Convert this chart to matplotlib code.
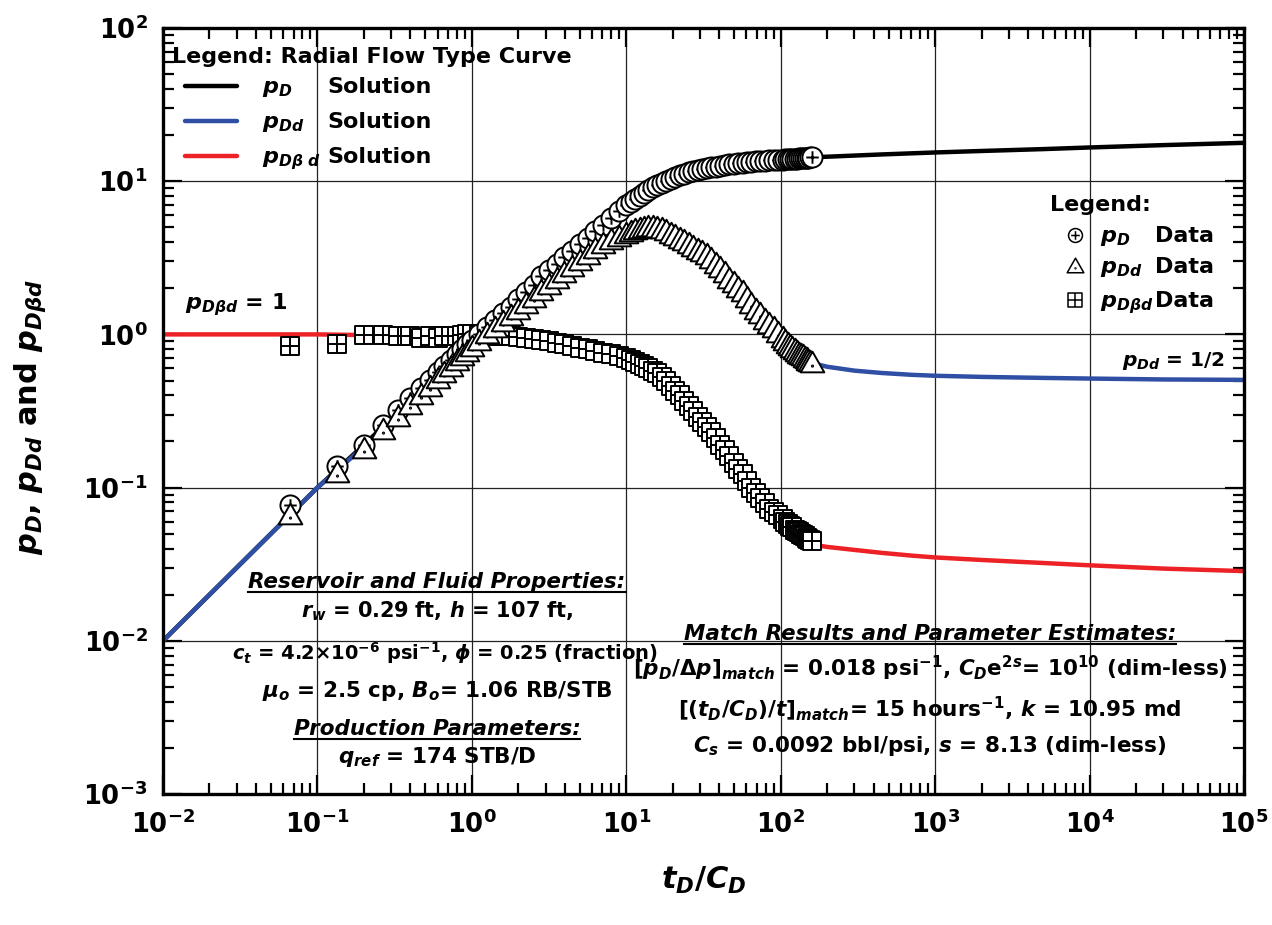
import numpy as np
import matplotlib
matplotlib.use("Agg")
import matplotlib.pyplot as plt
from matplotlib.path import Path
from matplotlib.lines import Line2D
from matplotlib.transforms import IdentityTransform
from matplotlib.ticker import LogLocator, NullFormatter

plt.rcParams['font.family'] = ['DejaVu Sans']
plt.rcParams['font.weight'] = 'bold'
plt.rcParams['mathtext.fontset'] = 'custom'
plt.rcParams['mathtext.rm'] = 'DejaVu Sans:bold'
plt.rcParams['mathtext.bf'] = 'DejaVu Sans:bold'
plt.rcParams['mathtext.sf'] = 'DejaVu Sans:bold'
plt.rcParams['mathtext.it'] = 'DejaVu Sans:italic:bold'

# ---- data ----
t_data = [0.0665, 0.133, 0.2, 0.266, 0.333, 0.4, 0.466, 0.532, 0.6, 0.665, 0.73, 0.8, 0.865, 0.93, 1.0,
          1.12, 1.26, 1.41, 1.58, 1.78, 2.0, 2.24, 2.51, 2.82, 3.16, 3.55, 3.98, 4.47, 5.01, 5.62, 6.31, 7.08, 7.94, 8.91, 10.0,
          10.7, 11.4, 12.2, 13.0, 13.9, 14.9, 15.9, 17.0, 18.2, 19.5, 20.8, 22.2, 23.8, 25.4, 27.2, 29.0, 31.0, 33.2, 35.5,
          37.9, 40.5, 43.3, 46.3, 49.5, 52.9, 56.6, 60.5, 64.6, 69.1, 73.9, 79.0, 84.4, 90.2, 96.4, 103,
          107, 111, 115, 119, 123, 127, 131, 135, 139, 143, 147, 151, 155, 160]

pD_data = [0.077, 0.138, 0.19, 0.258, 0.32, 0.385, 0.445, 0.505, 0.565, 0.625, 0.685, 0.745, 0.80, 0.86, 0.92,
           1.01, 1.12, 1.24, 1.37, 1.52, 1.70, 1.88, 2.1, 2.4, 2.62, 2.9, 3.2, 3.52, 3.88, 4.27, 4.7, 5.2, 5.75, 6.35, 7.0,
           7.35, 7.7, 8.05, 8.4, 8.75, 9.1, 9.4, 9.75, 10.05, 10.35, 10.65, 10.9, 11.15, 11.4, 11.6, 11.8, 12.0, 12.15, 12.3,
           12.45, 12.6, 12.75, 12.9, 13.0, 13.1, 13.2, 13.3, 13.4, 13.5, 13.55, 13.6, 13.7, 13.75, 13.8, 13.85,
           13.9, 13.9, 13.95, 14.0, 14.0, 14.05, 14.1, 14.1, 14.15, 14.2, 14.2, 14.25, 14.3, 14.35]

pDd_data = [0.066, 0.125, 0.178, 0.236, 0.29, 0.345, 0.40, 0.455, 0.51, 0.56, 0.615, 0.67, 0.72, 0.77, 0.83,
            0.91, 1.0, 1.1, 1.2, 1.32, 1.45, 1.58, 1.74, 1.92, 2.1, 2.3, 2.5, 2.75, 3.0, 3.3, 3.6, 3.9, 4.15, 4.35, 4.55,
            4.68, 4.8, 4.88, 4.95, 5.0, 5.0, 4.95, 4.85, 4.7, 4.55, 4.4, 4.22, 4.05, 3.88, 3.72, 3.57, 3.45, 3.3, 3.1,
            2.9, 2.7, 2.5, 2.3, 2.15, 2.0, 1.88, 1.72, 1.58, 1.45, 1.35, 1.25, 1.17, 1.1, 1.02, 0.95,
            0.91, 0.87, 0.84, 0.81, 0.79, 0.77, 0.75, 0.73, 0.72, 0.70, 0.69, 0.67, 0.66, 0.65]

pDbd_data = [0.84, 0.87, 0.99, 0.99, 0.98, 0.97, 0.95, 0.97, 0.95, 0.97, 0.98, 0.98, 0.99, 1.0, 1.0,
             0.99, 0.99, 0.98, 0.98, 0.97, 0.96, 0.95, 0.94, 0.92, 0.90, 0.88, 0.86, 0.84, 0.82, 0.80, 0.78, 0.76, 0.74, 0.72, 0.70,
             0.68, 0.66, 0.64, 0.62, 0.60, 0.58, 0.56, 0.53, 0.50, 0.46, 0.43, 0.40, 0.37, 0.34, 0.315, 0.29, 0.27, 0.25, 0.23,
             0.21, 0.19, 0.175, 0.16, 0.145, 0.132, 0.122, 0.11, 0.10, 0.092, 0.085, 0.079, 0.073, 0.069, 0.066, 0.062,
             0.060, 0.058, 0.056, 0.055, 0.053, 0.052, 0.051, 0.050, 0.049, 0.048, 0.047, 0.046, 0.0455, 0.045]

t_sol = [0.01, 0.02, 0.05, 0.1, 0.2, 0.5, 1, 2, 5, 10, 20, 50, 100, 160, 200, 300, 450, 700, 1000, 2000, 5000, 1e4, 3e4, 1e5]
pD_sol = [0.01, 0.02, 0.05, 0.1, 0.19, 0.46, 0.9, 1.7, 3.85, 7.0, 10.5, 13.1, 13.85, 14.35, 14.45, 14.7, 14.95, 15.2, 15.4, 15.75, 16.2, 16.6, 17.2, 17.8]
pDd_sol = [0.01, 0.02, 0.05, 0.1, 0.185, 0.42, 0.83, 1.45, 3.0, 4.55, 4.4, 2.1, 0.95, 0.65, 0.615, 0.58, 0.56, 0.545, 0.537, 0.528, 0.52, 0.515, 0.508, 0.505]
pDbd_sol = [1.0, 1.0, 1.0, 1.0, 0.99, 0.98, 0.95, 0.9, 0.8, 0.68, 0.44, 0.16, 0.068, 0.0425, 0.041, 0.0392, 0.0375, 0.0360, 0.0350, 0.0337, 0.0322, 0.0311, 0.0296, 0.0285]

x_ticks = [1e-2, 1e-1, 1e0, 1e1, 1e2, 1e3, 1e4, 1e5]
x_labels = [r'$10^{-2}$', r'$10^{-1}$', r'$10^{0}$', r'$10^{1}$', r'$10^{2}$', r'$10^{3}$', r'$10^{4}$', r'$10^{5}$']
y_ticks = [1e-3, 1e-2, 1e-1, 1e0, 1e1, 1e2]
y_labels = [r'$10^{-3}$', r'$10^{-2}$', r'$10^{-1}$', r'$10^{0}$', r'$10^{1}$', r'$10^{2}$']

BLUE = '#2E4FA3'
RED = '#EC2227'

# ---- marker shapes ----
M, L = Path.MOVETO, Path.LINETO
plus = Path([(-0.62, 0), (0.62, 0), (0, -0.62), (0, 0.62)], [M, L, M, L])
m_circle = Path.make_compound_path(Path.unit_circle(), plus)
tri = Path([(0, 1.0), (-1.0, -0.75), (1.0, -0.75), (0, 1.0)], [M, L, L, Path.CLOSEPOLY])
m_tri = Path.make_compound_path(tri, Path.circle((0, -0.22), 0.05))
sq = Path([(-1, -1), (1, -1), (1, 1), (-1, 1), (-1, -1)], [M, L, L, L, Path.CLOSEPOLY])
cross = Path([(-1, 0), (1, 0), (0, -1), (0, 1)], [M, L, M, L])
m_sq = Path.make_compound_path(sq, cross)

fig = plt.figure(figsize=(12.72, 9.25), dpi=100)
ax = fig.add_axes([163 / 1272, 131 / 925, 1081 / 1272, 766 / 925])
ax.set_xscale('log')
ax.set_yscale('log')
ax.set_xlim(1e-2, 1e5)
ax.set_ylim(1e-3, 1e2)

# solution curves
ax.plot(t_sol, pD_sol, color='k', lw=3.2, zorder=2, solid_capstyle='butt')
ax.plot(t_sol, pDbd_sol, color=RED, lw=3.2, zorder=2.1, solid_capstyle='butt')
ax.plot(t_sol, pDd_sol, color=BLUE, lw=3.2, zorder=2.2, solid_capstyle='butt')

# data
mk = dict(ls='none', mfc='white', mec='k', mew=1.4)
ax.plot(t_data, pDbd_data, marker=m_sq, ms=13, zorder=4, **mk)
ax.plot(t_data, pD_data, marker=m_circle, ms=14.5, zorder=5, **mk)
ax.plot(t_data, pDd_data, marker=m_tri, ms=17, zorder=6, **mk)

# axes styling
ax.grid(True, which='major', color='#222222', lw=0.9, zorder=1)
ax.set_axisbelow(True)
for s in ax.spines.values():
    s.set_linewidth(2.4)
ax.set_xticks(x_ticks, labels=x_labels)
ax.set_yticks(y_ticks, labels=y_labels)
ax.xaxis.set_minor_locator(LogLocator(base=10, subs=np.arange(2, 10), numticks=100))
ax.yaxis.set_minor_locator(LogLocator(base=10, subs=np.arange(2, 10), numticks=100))
ax.xaxis.set_minor_formatter(NullFormatter())
ax.yaxis.set_minor_formatter(NullFormatter())
ax.tick_params(which='both', direction='in', top=True, right=True, width=1.6, labelsize=18.5)
ax.tick_params(which='major', length=14)
ax.tick_params(which='minor', length=8)
ax.tick_params(axis='x', pad=12)
ax.tick_params(axis='y', pad=11)

fig.text(704 / 1272, 1 - 880 / 925, r'$t_D/C_D$', fontsize=22, ha='center', va='center')
fig.text(30 / 1272, 1 - 417 / 925, r'$p_D$, $p_{Dd}$ and $p_{D\beta d}$', fontsize=22,
         rotation=90, ha='center', va='center')


def axy(px, py):
    return (px - 163) / 1081, (794 - py) / 766


def txt(px, py, s, **kw):
    kw.setdefault('fontsize', 15.5)
    kw.setdefault('va', 'baseline')
    return ax.text(*axy(px, py), s, transform=ax.transAxes, zorder=8, **kw)


# left legend (solution curves)
txt(172, 63, 'Legend: Radial Flow Type Curve', fontsize=16)
for py, col, lab in [(86, 'k', r'$p_D$'), (121, BLUE, r'$p_{Dd}$'), (156, RED, r'$p_{D\beta\ d}$')]:
    x0, y0 = axy(185, py)
    x1, _ = axy(237, py)
    ax.add_line(Line2D([x0, x1], [y0, y0], transform=ax.transAxes, color=col, lw=3.2,
                       solid_capstyle='round', zorder=8))
    txt(262, py + 7, lab, fontsize=16)
    txt(327, py + 7, 'Solution', fontsize=16)

# right legend (data)
txt(1050, 211, 'Legend:', fontsize=16)
for py, m, ms, lab in [(235, m_circle, 10, r'$p_D$'), (266, m_tri, 12, r'$p_{Dd}$'), (300, m_sq, 10, r'$p_{D\beta d}$')]:
    ax.plot(*axy(1075, py), transform=ax.transAxes, marker=m, ms=ms, zorder=8, clip_on=False,
            ls='none', mfc='white', mec='k', mew=1.1)
    txt(1100, py + 7, lab, fontsize=16)
    txt(1155, py + 7, 'Data', fontsize=16)

txt(185, 309, r'$p_{D\beta d}$ = 1', fontsize=16)
txt(1122, 366, r'$p_{Dd}$ = 1/2', fontsize=14.5)

# property blocks
c1 = 437
h1 = txt(c1, 588, 'Reservoir and Fluid Properties:', ha='center', style='italic')
txt(c1, 617, r'$r_w$ = 0.29 ft, $h$ = 107 ft,', ha='center', fontsize=15)
txt(c1 + 8, 660, r'$c_t$ = 4.2×10$^{-6}$ psi$^{-1}$, $\phi$ = 0.25 (fraction)', ha='center', fontsize=14)
txt(c1, 697, r'$\mu_o$ = 2.5 cp, $B_o$= 1.06 RB/STB', ha='center')
h2 = txt(c1, 735, 'Production Parameters:', ha='center', style='italic')
txt(c1, 763, r'$q_{ref}$ = 174 STB/D', ha='center')

c2 = 930
h3 = txt(c2, 640, 'Match Results and Parameter Estimates:', ha='center', style='italic')
txt(c2, 676, r'$[p_D/\Delta p]_{match}$ = 0.018 psi$^{-1}$, $C_D\mathrm{e}^{2s}$= 10$^{10}$ (dim-less)', ha='center')
txt(c2, 717, r'$[(t_D/C_D)/t]_{match}$= 15 hours$^{-1}$, $k$ = 10.95 md', ha='center')
txt(c2, 752, r'$C_s$ = 0.0092 bbl/psi, $s$ = 8.13 (dim-less)', ha='center')

# underline the block headings
fig.canvas.draw()
for h in (h1, h2, h3):
    bb = h.get_window_extent()
    yb = ax.transAxes.transform(h.get_position())[1] - 4
    fig.add_artist(Line2D([bb.x0, bb.x1], [yb, yb], transform=IdentityTransform(), color='k', lw=1.5))

fig.savefig('out.png', dpi=100)
